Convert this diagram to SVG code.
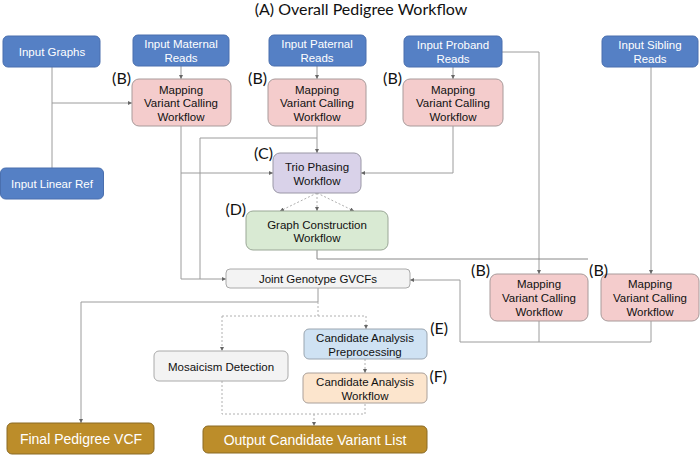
<svg xmlns="http://www.w3.org/2000/svg" width="700" height="455" viewBox="0 0 700 455">
<defs>
<marker id="ah" viewBox="0 0 6 6" refX="6" refY="3" markerWidth="4" markerHeight="4" orient="auto" markerUnits="userSpaceOnUse">
<path d="M0,0 L6,3 L0,6 z" fill="#666"/>
</marker>
<style>
.t{font-family:"Liberation Sans",Arial,sans-serif;font-size:11.5px;fill:#111;text-anchor:middle;dominant-baseline:central}
.tw{font-family:"Liberation Sans",Arial,sans-serif;font-size:11.5px;fill:#fff;text-anchor:middle;dominant-baseline:central}
.tg{font-family:"Liberation Sans",Arial,sans-serif;font-size:14px;fill:#fff;text-anchor:middle;dominant-baseline:central}
.lab{font-family:Lato,"Open Sans",sans-serif;font-size:16px;fill:#111;text-anchor:end;dominant-baseline:central}
.title{font-family:Lato,"Open Sans",sans-serif;font-size:16px;fill:#111;text-anchor:middle}
.blue{fill:#5580c5;stroke:#4a6fae;stroke-width:1}
.pink{fill:#f4cccc;stroke:#a89a9a;stroke-width:1}
.purple{fill:#d9d2e9;stroke:#9a97a6;stroke-width:1}
.green{fill:#d9ead3;stroke:#9aa796;stroke-width:1}
.gray{fill:#f3f3f3;stroke:#aaa;stroke-width:1}
.lblue{fill:#cfe2f3;stroke:#9aa5b0;stroke-width:1}
.peach{fill:#fce5cd;stroke:#aaa09a;stroke-width:1}
.gold{fill:#bc8d2a;stroke:#8a6a25;stroke-width:1}
.c{fill:none;stroke:#9c9c9c;stroke-width:1}
.d{fill:none;stroke:#b0b0b0;stroke-width:1;stroke-dasharray:2,2}
.a{marker-end:url(#ah)}
</style>
</defs>
<rect width="700" height="455" fill="#fff"/>
<text class="title" x="361" y="15">(A) Overall Pedigree Workflow</text>

<g id="connectors">
<path class="c a" d="M181,66 V79"/>
<path class="c a" d="M317,66 V79"/>
<path class="c a" d="M453,67 V79"/>
<path class="c" d="M52,67 V168"/>
<path class="c a" d="M52,103 H132"/>
<path class="c a" d="M502,52 H539 V274"/>
<path class="c a" d="M651,67 V274"/>
<path class="c a" d="M181,126 V279 H226"/>
<path class="c a" d="M181,173 H273"/>
<path class="c a" d="M317,126 V153"/>
<path class="c" d="M317,138 H200 V279"/>
<path class="c a" d="M453,126 V173 H361"/>
<path class="d a" d="M317,193 L280,211"/>
<path class="d a" d="M317,193 V211"/>
<path class="d a" d="M317,193 L354,211"/>
<path class="c" d="M317,250 V259 H588" style="stroke:#888"/>
<path class="c" d="M539,321 V342"/>
<path class="c" d="M651,321 V342 H460"/>
<path class="c a" d="M460,342 V280 H410"/>
<path class="c a" d="M318,288 V302 H81 V423"/>
<path class="d" d="M318,302 V316"/>
<path class="d" d="M222,316 H366"/>
<path class="d a" d="M222,316 V351"/>
<path class="d a" d="M366,316 V329"/>
<path class="d a" d="M365,359 V373"/>
<path class="d" d="M222,381 V414 H365 V403"/>
<path class="d a" d="M314,414 V426"/>
</g>

<g id="input-graphs"><rect class="blue" x="3" y="36" width="97" height="31" rx="5"/><text class="tw" x="52" y="51.5">Input Graphs</text></g>
<g id="input-maternal"><rect class="blue" x="133" y="35" width="96" height="31" rx="5"/><text class="tw" x="181" y="43.5">Input Maternal</text><text class="tw" x="181" y="57.5">Reads</text></g>
<g id="input-paternal"><rect class="blue" x="269" y="35" width="97" height="31" rx="5"/><text class="tw" x="317" y="43.5">Input Paternal</text><text class="tw" x="317" y="57.5">Reads</text></g>
<g id="input-proband"><rect class="blue" x="404" y="36" width="98" height="31" rx="5"/><text class="tw" x="453" y="44.5">Input Proband</text><text class="tw" x="453" y="58.5">Reads</text></g>
<g id="input-sibling"><rect class="blue" x="602" y="36" width="96" height="31" rx="5"/><text class="tw" x="650" y="44.5">Input Sibling</text><text class="tw" x="650" y="58.5">Reads</text></g>
<g id="input-linear-ref"><rect class="blue" x="0.5" y="168" width="103" height="31" rx="5"/><text class="tw" x="52" y="183.5">Input Linear Ref</text></g>

<g id="map-maternal"><rect class="pink" x="132" y="79" width="99" height="47" rx="7"/><text class="t" x="181" y="89.5">Mapping</text><text class="t" x="181" y="103">Variant Calling</text><text class="t" x="181" y="117">Workflow</text><text class="lab" x="131" y="77">(B)</text></g>
<g id="map-paternal"><rect class="pink" x="268" y="79" width="98" height="47" rx="7"/><text class="t" x="317" y="89.5">Mapping</text><text class="t" x="317" y="103">Variant Calling</text><text class="t" x="317" y="117">Workflow</text><text class="lab" x="267" y="77">(B)</text></g>
<g id="map-proband"><rect class="pink" x="403" y="79" width="100" height="47" rx="7"/><text class="t" x="453" y="89.5">Mapping</text><text class="t" x="453" y="103">Variant Calling</text><text class="t" x="453" y="117">Workflow</text><text class="lab" x="402" y="77">(B)</text></g>

<g id="trio-phasing"><rect class="purple" x="273" y="153" width="88" height="40" rx="7"/><text class="t" x="317" y="167">Trio Phasing</text><text class="t" x="317" y="180.5">Workflow</text><text class="lab" x="273" y="152">(C)</text></g>
<g id="graph-construction"><rect class="green" x="246" y="211" width="142" height="39" rx="7"/><text class="t" x="317" y="224.5">Graph Construction</text><text class="t" x="317" y="238">Workflow</text><text class="lab" x="246" y="208">(D)</text></g>
<g id="joint-genotype"><rect class="gray" x="226" y="269" width="184" height="19" rx="4"/><text class="t" x="318" y="279">Joint Genotype GVCFs</text></g>

<g id="map-proband-2"><rect class="pink" x="490" y="274" width="98" height="47" rx="7"/><text class="t" x="539" y="284">Mapping</text><text class="t" x="539" y="298">Variant Calling</text><text class="t" x="539" y="311.5">Workflow</text><text class="lab" x="490" y="269">(B)</text></g>
<g id="map-sibling"><rect class="pink" x="601" y="274" width="98" height="47" rx="7"/><text class="t" x="650" y="284">Mapping</text><text class="t" x="650" y="298">Variant Calling</text><text class="t" x="650" y="311.5">Workflow</text><text class="lab" x="608" y="269">(B)</text></g>

<g id="mosaicism"><rect class="gray" x="154" y="351" width="134" height="30" rx="5"/><text class="t" x="221" y="366.5">Mosaicism Detection</text></g>
<g id="cand-preproc"><rect class="lblue" x="304" y="329" width="123" height="30" rx="5"/><text class="t" x="365" y="337.5">Candidate Analysis</text><text class="t" x="365" y="351.5">Preprocessing</text><text class="lab" x="448" y="327">(E)</text></g>
<g id="cand-workflow"><rect class="peach" x="303" y="373" width="124" height="30" rx="5"/><text class="t" x="365" y="382">Candidate Analysis</text><text class="t" x="365" y="396">Workflow</text><text class="lab" x="447" y="375">(F)</text></g>

<g id="final-vcf"><rect class="gold" x="7" y="423" width="147" height="31" rx="5"/><text class="tg" x="81" y="438.5">Final Pedigree VCF</text></g>
<g id="output-list"><rect class="gold" x="203" y="426" width="224" height="27" rx="5"/><text class="tg" x="315" y="439.5">Output Candidate Variant List</text></g>
</svg>
